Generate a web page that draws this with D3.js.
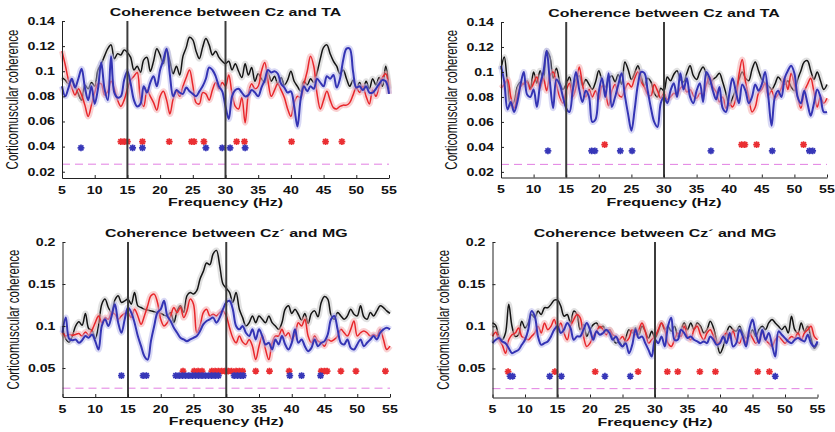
<!DOCTYPE html>
<html>
<head>
<meta charset="utf-8">
<script src="https://cdn.jsdelivr.net/npm/d3@7"></script>
<style>
  body { margin: 0; background: #fff; }
</style>
</head>
<body>
<script>
// frequency grid of the traces (Hz)
const freqs = d3.range(5, 55.001, 0.5);

const xTicks = [5, 10, 15, 20, 25, 30, 35, 40, 45, 50, 55];
const yTicksTA = [0.02, 0.04, 0.06, 0.08, 0.1, 0.12, 0.14];
const yTicksMG = [0.05, 0.1, 0.15, 0.2];
const bandEdges = [15, 30];
const threshold = 0.026;

// top left: Cz - TA
const p1Black = [
  .095,.093,.090,.092,.088,.082,.077,.089,.086,.091,
  .088,.101,.106,.112,.118,.121,.110,.114,.113,.117,
  .115,.111,.101,.104,.099,.109,.111,.100,.108,.118,
  .113,.106,.117,.108,.098,.104,.097,.112,.119,.127,
  .125,.116,.110,.119,.126,.121,.113,.116,.111,.108,
  .106,.108,.101,.106,.100,.095,.106,.097,.103,.092,
  .098,.094,.091,.099,.092,.096,.090,.095,.089,.093,
  .100,.092,.088,.084,.092,.089,.094,.091,.099,.110,
  .119,.121,.114,.108,.104,.098,.101,.094,.088,.093,
  .086,.091,.085,.092,.086,.094,.089,.095,.088,.104,
  .086];
const p1Red = [
  .116,.105,.093,.087,.081,.086,.081,.073,.064,.073,
  .083,.090,.090,.081,.084,.092,.086,.077,.072,.077,
  .086,.093,.096,.099,.078,.072,.085,.080,.075,.069,
  .080,.084,.077,.066,.078,.084,.080,.088,.095,.101,
  .089,.075,.074,.083,.082,.077,.085,.091,.086,.091,
  .088,.097,.082,.072,.070,.079,.059,.082,.090,.086,
  .088,.100,.107,.092,.080,.085,.090,.085,.079,.070,
  .064,.075,.080,.079,.090,.100,.112,.104,.082,.070,
  .077,.084,.077,.071,.070,.072,.073,.073,.075,.081,
  .087,.083,.088,.080,.074,.085,.080,.088,.095,.098,
  .082];
const p1Blue = [
  .088,.080,.087,.094,.087,.094,.102,.087,.077,.088,
  .074,.086,.107,.086,.077,.112,.083,.079,.080,.093,
  .100,.090,.077,.072,.074,.088,.083,.091,.096,.088,
  .101,.109,.118,.097,.080,.085,.083,.082,.087,.084,
  .082,.080,.084,.088,.094,.103,.101,.096,.088,.084,
  .072,.062,.080,.085,.086,.083,.080,.081,.085,.083,
  .080,.087,.093,.101,.099,.100,.098,.090,.087,.083,
  .084,.072,.056,.078,.088,.084,.088,.086,.094,.091,
  .088,.096,.094,.097,.087,.094,.109,.118,.118,.100,
  .087,.088,.085,.088,.083,.083,.086,.090,.093,.092,
  .082];
const p1RedStars = [14.0, 14.5, 15.0, 17.3, 21.4, 24.8, 25.2, 26.7, 31.7, 32.9, 40.1, 45.3, 47.8];
const p1BlueStars = [7.9, 15.8, 17.3, 27.0, 29.5, 30.7, 33.0];

// top right: Cz - TA
const p2Black = [
  .102,.112,.090,.073,.076,.088,.092,.090,.093,.087,
  .100,.091,.101,.093,.117,.112,.095,.103,.092,.086,
  .090,.096,.087,.094,.097,.089,.094,.090,.086,.092,
  .101,.093,.088,.094,.097,.092,.098,.090,.108,.102,
  .094,.099,.105,.096,.089,.095,.092,.083,.080,.087,
  .085,.096,.093,.098,.101,.094,.092,.099,.105,.097,
  .094,.100,.104,.098,.090,.094,.096,.099,.092,.083,
  .073,.079,.086,.094,.100,.095,.093,.102,.108,.101,
  .094,.091,.089,.086,.090,.096,.093,.090,.093,.088,
  .085,.094,.101,.108,.109,.101,.094,.100,.093,.086,
  .090];
const p2Red = [
  .087,.090,.094,.080,.071,.081,.088,.091,.092,.086,
  .091,.096,.087,.095,.085,.097,.100,.090,.080,.075,
  .085,.091,.080,.088,.104,.090,.080,.086,.080,.085,
  .078,.089,.084,.073,.085,.090,.082,.080,.086,.091,
  .088,.095,.100,.092,.088,.082,.081,.090,.085,.079,
  .083,.078,.080,.083,.082,.087,.089,.084,.086,.081,
  .079,.083,.082,.090,.096,.088,.084,.076,.080,.071,
  .075,.072,.078,.098,.110,.092,.080,.068,.072,.083,
  .086,.091,.081,.085,.079,.082,.087,.095,.086,.099,
  .090,.080,.071,.084,.090,.095,.084,.072,.080,.075,
  .079];
const p2Blue = [
  .105,.092,.070,.076,.068,.076,.090,.100,.082,.080,
  .086,.072,.090,.100,.117,.092,.071,.094,.090,.080,
  .071,.068,.085,.100,.086,.076,.085,.080,.060,.062,
  .084,.095,.080,.099,.072,.080,.090,.099,.081,.066,
  .053,.070,.090,.100,.099,.085,.071,.060,.056,.075,
  .080,.075,.085,.091,.080,.099,.086,.095,.080,.075,
  .085,.091,.076,.100,.095,.085,.078,.088,.071,.068,
  .082,.095,.085,.075,.090,.085,.075,.080,.090,.085,
  .090,.100,.080,.057,.080,.085,.080,.095,.101,.105,
  .099,.080,.075,.085,.075,.065,.075,.086,.080,.068,
  .068];
const p2RedStars = [20.9, 41.9, 42.4, 44.2, 51.4];
const p2BlueStars = [12.2, 18.9, 19.4, 23.3, 25.1, 37.2, 46.6, 52.3, 52.8];

// bottom left: Cz' - MG
const p3Black = [
  .100,.085,.081,.088,.100,.105,.101,.115,.097,.095,
  .085,.100,.126,.132,.122,.116,.131,.136,.128,.130,
  .132,.126,.140,.124,.122,.120,.119,.118,.117,.116,
  .115,.113,.112,.116,.104,.118,.124,.116,.136,.140,
  .138,.142,.156,.165,.175,.173,.186,.190,.172,.150,
  .145,.140,.128,.140,.120,.110,.100,.104,.112,.104,
  .112,.108,.104,.112,.104,.100,.096,.104,.120,.124,
  .115,.120,.114,.107,.115,.103,.115,.118,.111,.128,
  .135,.132,.113,.108,.116,.112,.108,.112,.120,.114,
  .112,.124,.111,.108,.116,.112,.118,.124,.122,.118,
  .115];
const p3Red = [
  .093,.088,.090,.089,.090,.091,.088,.093,.089,.095,
  .104,.112,.104,.110,.108,.116,.114,.108,.112,.115,
  .116,.110,.120,.112,.102,.112,.124,.136,.138,.128,
  .108,.100,.104,.112,.122,.116,.122,.110,.118,.132,
  .126,.092,.100,.116,.120,.112,.114,.112,.116,.118,
  .112,.098,.086,.080,.088,.081,.078,.084,.076,.060,
  .076,.088,.072,.060,.080,.088,.088,.096,.088,.092,
  .084,.090,.104,.100,.108,.088,.080,.088,.082,.080,
  .076,.084,.082,.084,.088,.096,.092,.088,.096,.106,
  .088,.092,.094,.092,.088,.090,.088,.096,.084,.072,
  .076];
const p3Blue = [
  .092,.110,.085,.083,.084,.080,.083,.088,.086,.090,
  .082,.072,.100,.108,.100,.112,.126,.104,.092,.108,
  .122,.116,.104,.088,.076,.064,.060,.082,.100,.116,
  .120,.130,.112,.106,.098,.092,.086,.084,.082,.084,
  .086,.088,.094,.102,.106,.108,.110,.104,.110,.120,
  .128,.130,.120,.100,.096,.100,.092,.088,.096,.084,
  .096,.088,.078,.080,.072,.084,.078,.088,.078,.072,
  .080,.096,.080,.084,.076,.070,.074,.084,.076,.080,
  .082,.090,.108,.112,.096,.080,.078,.084,.074,.072,
  .078,.084,.076,.080,.084,.088,.084,.092,.096,.098,
  .096];
const p3RedStars = [23.4, 25.1, 25.7, 26.3, 27.8, 28.3, 28.8, 29.3, 29.8, 30.3, 30.8, 31.5, 32.0, 32.5,
                    34.5, 36.6, 39.6, 44.5, 45.0, 45.4, 47.5, 49.8, 54.3];
const p3BlueStars = [14.0, 17.3, 17.8, 22.3, 22.8, 23.3, 23.8, 24.3, 24.8, 25.3, 25.8, 26.3, 26.8, 27.3,
                     27.8, 28.3, 28.8, 31.2, 31.7, 32.2, 32.6, 39.7, 41.5, 44.4];

// bottom right: Cz' - MG
const p4Black = [
  .104,.101,.088,.084,.092,.126,.100,.088,.090,.106,
  .098,.104,.114,.110,.118,.114,.122,.122,.126,.131,
  .131,.124,.112,.114,.104,.118,.114,.096,.102,.088,
  .096,.102,.104,.098,.100,.094,.096,.086,.080,.082,
  .076,.086,.096,.092,.098,.090,.100,.094,.086,.094,
  .086,.094,.104,.096,.100,.094,.100,.088,.096,.104,
  .096,.104,.096,.104,.100,.092,.096,.106,.098,.082,
  .068,.076,.092,.100,.096,.094,.100,.092,.086,.088,
  .096,.088,.096,.100,.096,.104,.108,.104,.100,.096,
  .100,.092,.112,.096,.092,.104,.094,.100,.086,.074,
  .080];
const p4Red = [
  .088,.093,.084,.078,.068,.084,.090,.092,.098,.088,
  .086,.084,.088,.092,.100,.092,.104,.096,.100,.108,
  .096,.104,.092,.084,.100,.108,.114,.110,.088,.076,
  .080,.088,.094,.100,.096,.090,.096,.090,.088,.084,
  .088,.082,.086,.096,.090,.096,.104,.094,.080,.084,
  .088,.096,.104,.096,.080,.076,.084,.092,.088,.100,
  .088,.084,.096,.100,.090,.084,.092,.096,.088,.080,
  .082,.088,.092,.086,.094,.084,.080,.088,.080,.092,
  .086,.080,.084,.092,.084,.080,.076,.084,.088,.084,
  .080,.084,.088,.086,.092,.084,.092,.096,.100,.088,
  .084];
const p4Blue = [
  .080,.084,.086,.082,.080,.074,.068,.070,.072,.078,
  .084,.096,.118,.112,.088,.078,.080,.082,.088,.096,
  .100,.092,.096,.104,.098,.084,.088,.088,.096,.104,
  .096,.084,.094,.090,.092,.096,.092,.084,.088,.080,
  .076,.080,.068,.078,.096,.086,.088,.080,.072,.064,
  .084,.080,.088,.076,.100,.110,.084,.084,.096,.092,
  .086,.088,.084,.082,.080,.082,.080,.088,.084,.078,
  .080,.088,.080,.092,.076,.080,.096,.088,.076,.096,
  .108,.092,.080,.096,.084,.092,.078,.064,.094,.090,
  .086,.082,.080,.084,.086,.084,.082,.090,.080,.076,
  .082];
const p4RedStars = [7.4, 14.6, 20.8, 27.4, 31.9, 33.5, 36.9, 39.3, 45.8, 47.6];
const p4BlueStars = [7.7, 8.1, 13.8, 15.6, 22.3, 26.2, 48.5];

// star rows: [red level, blue level]
const starLevels = [[0.044, 0.039], [0.0418, 0.0368], [0.0464, 0.041], [0.0461, 0.0407]];

const titles = ["Coherence between Cz and TA", "Coherence between Cz and TA",
                "Coherence between Cz\u00b4 and MG", "Coherence between Cz\u00b4 and MG"];
const xTitle = "Frequency (Hz)";
const yTitle = "Corticomuscular coherence";

const width = 835, height = 432;
const FONT = '"Liberation Sans", Arial, Helvetica, sans-serif';

const svg = d3.select("body").append("svg")
  .attr("width", width)
  .attr("height", height)
  .style("display", "block");

// where each panel sits
const panels = [
  { box: { l: 62, r: 389, t: 21, b: 178 }, yDomain: [0.015, 0.14], yTicks: yTicksTA,
    black: p1Black, red: p1Red, blue: p1Blue, redStars: p1RedStars, blueStars: p1BlueStars },
  { box: { l: 501, r: 827, t: 22, b: 177.5 }, yDomain: [0.0155, 0.14], yTicks: yTicksTA,
    black: p2Black, red: p2Red, blue: p2Blue, redStars: p2RedStars, blueStars: p2BlueStars },
  { box: { l: 62.5, r: 390, t: 242, b: 397 }, yDomain: [0.0155, 0.2], yTicks: yTicksMG,
    black: p3Black, red: p3Red, blue: p3Blue, redStars: p3RedStars, blueStars: p3BlueStars },
  { box: { l: 492.5, r: 817.5, t: 242, b: 397.5 }, yDomain: [0.0155, 0.2], yTicks: yTicksMG,
    black: p4Black, red: p4Red, blue: p4Blue, redStars: p4RedStars, blueStars: p4BlueStars }
];

const series = [
  { key: "black", line: "#141414", band: "#c4c4c4", w: 1.5 },
  { key: "red", line: "#e8262b", band: "#f4a4a6", w: 1.5 },
  { key: "blue", line: "#3434b4", band: "#b4b4ec", w: 2 }
];

// text is stretched sideways in the source image
function addText(g, x, y, str, o) {
  let t = `translate(${x},${y}) scale(${o.sx || 1},1)`;
  if (o.rot) t += ` rotate(${o.rot})`;
  return g.append("text")
    .attr("transform", t)
    .attr("text-anchor", o.anchor || "middle")
    .attr("dy", o.dy || null)
    .style("font-family", FONT)
    .style("font-weight", o.weight || "bold")
    .style("font-size", o.size + "px")
    .attr("fill", "#111")
    .text(str);
}

function asterisk(r) {
  const d = r * 0.72;
  return `M${-r},0L${r},0M0,${-r}L0,${r}M${-d},${-d}L${d},${d}M${-d},${d}L${d},${-d}`;
}

panels.forEach((p, i) => {
  const g = svg.append("g");
  const x = d3.scaleLinear().domain([5, 55]).range([p.box.l, p.box.r]);
  const y = d3.scaleLinear().domain(p.yDomain).range([p.box.b, p.box.t]);
  const yTop = p.yTicks[p.yTicks.length - 1];

  // significance threshold
  g.append("line")
    .attr("x1", x(5)).attr("x2", x(55))
    .attr("y1", y(threshold)).attr("y2", y(threshold))
    .attr("stroke", "#e27fe2")
    .attr("stroke-width", 1)
    .attr("stroke-dasharray", "8,5");

  // traces with their error bands
  const line = d3.line()
    .x((d, j) => x(freqs[j]))
    .y(d => y(d))
    .curve(d3.curveCatmullRom);

  series.forEach(s => {
    g.append("path")
      .attr("d", line(p[s.key]))
      .attr("fill", "none")
      .attr("stroke", s.band)
      .attr("stroke-width", 6)
      .attr("stroke-linejoin", "round")
      .attr("opacity", 0.5);
    g.append("path")
      .attr("d", line(p[s.key]))
      .attr("fill", "none")
      .attr("stroke", s.line)
      .attr("stroke-width", s.w)
      .attr("stroke-linejoin", "round");
  });

  // significant frequencies
  const starRows = [
    { f: p.redStars, level: starLevels[i][0], color: "#ea2f33" },
    { f: p.blueStars, level: starLevels[i][1], color: "#3737b8" }
  ];
  starRows.forEach(row => {
    g.selectAll(null)
      .data(row.f)
      .enter().append("path")
      .attr("transform", d => `translate(${x(d)},${y(row.level)})`)
      .attr("d", asterisk(3.4))
      .attr("stroke", row.color)
      .attr("stroke-width", 1.7)
      .attr("fill", "none");
  });

  // 15 Hz and 30 Hz markers
  g.selectAll(null)
    .data(bandEdges)
    .enter().append("line")
    .attr("x1", d => x(d)).attr("x2", d => x(d))
    .attr("y1", y(p.yDomain[0])).attr("y2", y(yTop))
    .attr("stroke", "#3c3c3c")
    .attr("stroke-width", 2);

  // axes, ticks pointing inwards
  const xAxis = g.append("g")
    .attr("transform", `translate(0,${p.box.b})`)
    .call(d3.axisBottom(x).tickValues(xTicks).tickSizeInner(-3).tickSizeOuter(0).tickFormat(""));
  const yAxis = g.append("g")
    .attr("transform", `translate(${p.box.l},0)`)
    .call(d3.axisLeft(y.copy().domain([p.yDomain[0], yTop]).range([p.box.b, y(yTop)]))
      .tickValues(p.yTicks).tickSizeInner(-3).tickSizeOuter(0).tickFormat(""));
  [xAxis, yAxis].forEach(a => {
    a.selectAll("path, line").attr("stroke", "#222").attr("stroke-width", 1);
  });

  xTicks.forEach(t => addText(g, x(t), p.box.b + 15.5, String(t), { size: 10.5, sx: 1.35 }));
  p.yTicks.forEach(t => addText(g, p.box.l - 7, y(t) + 3.8, String(t), { size: 10.5, sx: 1.35, anchor: "end" }));

  const cx = (p.box.l + p.box.r) / 2;
  addText(g, cx, p.box.t - 5, titles[i], { size: 11, sx: 1.45 });
  addText(g, cx, p.box.b + 28, xTitle, { size: 11, sx: 1.45 });
  addText(g, p.box.l - 50, (p.box.t + p.box.b) / 2, yTitle,
    { size: 11.5, sx: 1.5, rot: -90, weight: "normal", dy: "0.35em" });
});
</script>
</body>
</html>
